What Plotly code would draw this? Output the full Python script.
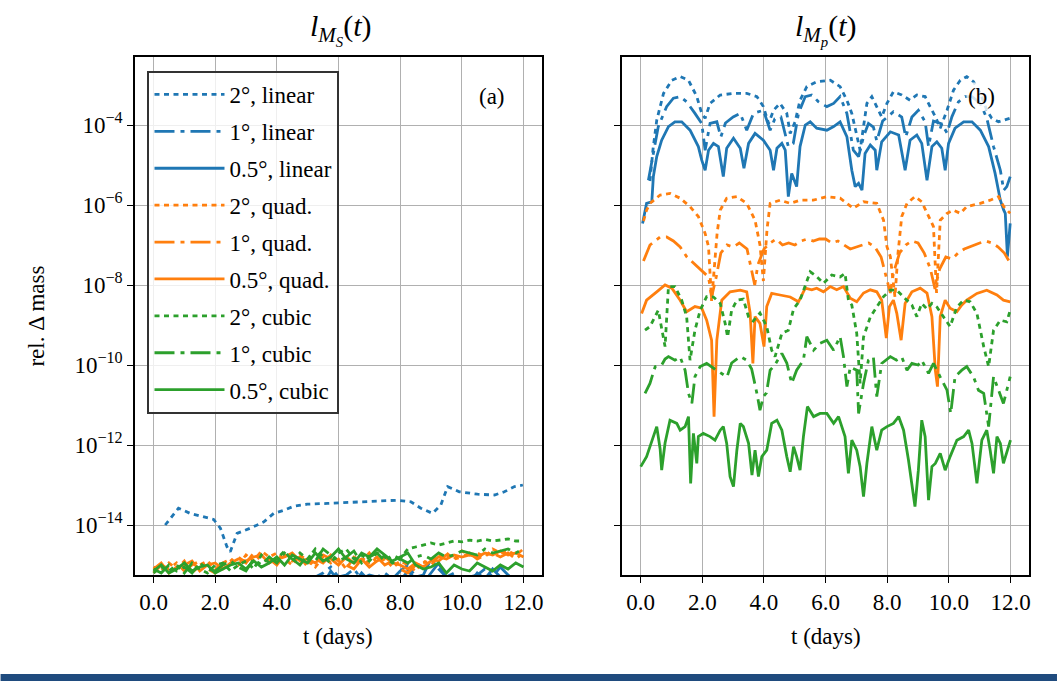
import numpy as np
import plotly.graph_objects as go

BLUE, ORANGE, GREEN = "#1f77b4", "#ff7f0e", "#2ca02c"
FONT = "Liberation Serif"

X_TICKS = [0, 2, 4, 6, 8, 10, 12]
X_TICK_TEXT = ["0.0", "2.0", "4.0", "6.0", "8.0", "10.0", "12.0"]
Y_TICK_EXP = [-14, -12, -10, -8, -6, -4]

LABELS = ["2°, linear", "1°, linear", "0.5°, linear",
          "2°, quad.", "1°, quad.", "0.5°, quad.",
          "2°, cubic", "1°, cubic", "0.5°, cubic"]

# ---------------- panel (a): log10 of rel. mass change --------------------
L_T = [i * 0.25 for i in range(49)]  # sample times (days)

L_LIN2 = [(0.38, -14.0), (0.81, -13.58), (1.19, -13.71), (1.57, -13.79), (1.95, -13.86),
          (2.17, -14.08), (2.38, -14.54), (2.49, -14.67), (2.71, -14.21), (3.14, -14.08),
          (3.58, -13.92), (3.9, -13.71), (4.23, -13.63), (4.55, -13.53), (4.99, -13.48),
          (5.64, -13.46), (6.18, -13.44), (6.83, -13.43), (7.48, -13.4), (7.91, -13.38),
          (8.35, -13.42), (8.67, -13.58), (9.05, -13.71), (9.32, -13.5), (9.54, -13.04),
          (9.92, -13.17), (10.51, -13.23), (11.06, -13.25), (11.38, -13.17), (11.71, -13.04),
          (11.98, -13.0)]
L_LIN1 = [-15.5, -15.6, -15.4, -15.55, -15.45, -15.6, -15.5, -15.4, -15.55, -15.5, -15.45, -15.6,
          -15.5, -15.35, -15.5, -15.4, -15.45, -15.3, -15.45, -15.35, -15.4, -15.3, -15.2, -15.05,
          -15.3, -15.25, -15.1, -15.35, -15.25, -15.3, -15.2, -15.35, -15.15, -15.0, -15.3, -15.25,
          -14.85, -15.1, -15.3, -15.2, -15.35, -15.3, -15.25, -15.1, -15.3, -15.05, -15.25, -15.35, -15.3]
L_LIN05 = [-15.6, -15.5, -15.65, -15.45, -15.6, -15.5, -15.55, -15.6, -15.45, -15.6, -15.5, -15.4,
           -15.55, -15.45, -15.6, -15.5, -15.35, -15.5, -15.4, -15.55, -15.45, -15.35, -15.5, -15.15,
           -15.4, -15.3, -15.45, -15.2, -15.4, -15.35, -15.45, -15.3, -15.4, -15.15, -15.35, -15.45,
           -15.2, -14.95, -15.35, -15.4, -15.3, -15.45, -15.2, -15.35, -15.1, -15.3, -15.4, -15.3, -15.45]
L_Q2 = [-15.05, -15.15, -14.95, -15.1, -14.9, -15.2, -15.0, -14.9, -15.1, -14.95, -14.85, -15.0,
        -14.75, -14.9, -14.65, -14.8, -14.7, -14.85, -15.0, -14.75, -14.9, -15.05, -14.8, -14.95,
        -14.85, -15.1, -14.8, -14.9, -14.7, -14.95, -14.85, -15.05, -14.9, -15.0, -15.15, -14.9,
        -15.0, -14.8, -14.7, -14.85, -14.65, -14.75, -14.7, -14.8, -14.6, -14.7, -14.65, -14.75, -14.6]
L_Q1 = [-15.2, -15.0, -15.1, -14.95, -15.15, -15.0, -14.9, -15.1, -15.2, -15.0, -14.9, -14.8,
        -14.95, -14.7, -14.9, -14.85, -15.0, -14.75, -14.9, -14.8, -15.05, -14.85, -14.95, -14.75,
        -14.9, -15.0, -15.1, -14.85, -14.95, -14.8, -15.0, -14.9, -15.1, -15.2, -15.0, -14.95,
        -14.85, -14.9, -14.75, -14.85, -14.8, -14.7, -14.85, -14.75, -14.7, -14.8, -14.7, -14.85, -14.7]
L_Q05 = [-15.1, -14.95, -15.2, -15.05, -15.0, -14.9, -15.15, -15.0, -14.95, -15.1, -14.95, -14.85,
         -14.9, -14.8, -14.75, -14.95, -14.85, -14.8, -14.7, -14.9, -14.85, -14.95, -14.75, -14.85,
         -15.0, -14.8, -14.95, -14.85, -15.05, -14.9, -14.8, -14.95, -15.0, -15.1, -14.95, -15.05,
         -14.9, -14.8, -14.85, -14.75, -14.8, -14.75, -14.8, -14.7, -14.75, -14.65, -14.75, -14.7, -14.8]
L_C2 = [-15.2, -15.05, -15.15, -15.0, -15.2, -14.95, -15.1, -15.2, -15.0, -14.95, -15.15, -15.0,
        -14.9, -15.1, -14.75, -14.95, -14.85, -14.65, -14.9, -14.7, -14.85, -14.6, -14.8, -14.95,
        -14.7, -14.6, -14.85, -14.75, -14.9, -14.7, -14.8, -14.95, -14.85, -14.6, -14.55, -14.5,
        -14.45, -14.5, -14.45, -14.4, -14.42, -14.38, -14.4, -14.36, -14.4, -14.38, -14.35, -14.4, -14.4]
L_C1 = [-15.1, -15.2, -15.0, -15.15, -15.05, -15.2, -14.95, -15.1, -15.15, -15.0, -14.9, -15.05,
        -15.15, -14.85, -15.0, -14.8, -14.95, -14.7, -14.85, -15.0, -14.75, -14.9, -14.6, -14.75,
        -14.9, -14.8, -14.65, -14.95, -14.8, -14.7, -14.9, -14.75, -14.85, -14.95, -14.8, -14.75,
        -14.85, -14.7, -14.8, -14.75, -14.65, -14.7, -14.75, -14.6, -14.7, -14.65, -14.6, -14.7, -14.6]
L_C05 = [-15.15, -15.0, -15.2, -15.1, -14.95, -15.15, -15.05, -15.0, -15.2, -15.1, -15.0, -14.95,
         -15.1, -14.9, -15.05, -14.95, -14.8, -15.0, -14.75, -14.85, -14.95, -14.7, -14.9, -14.8,
         -14.6, -14.85, -14.95, -14.7, -14.8, -14.6, -14.75, -14.9, -14.8, -14.7, -15.0, -15.1,
         -15.05, -14.95, -15.2, -15.0, -15.1, -15.15, -14.95, -15.05, -15.15, -15.0, -15.1, -14.95, -15.05]

# ---------------- panel (b): (t, log10 value) pairs -----------------------
R_LIN2 = [(0.3, -5.4), (0.4, -4.6), (0.52, -3.88), (0.74, -3.21), (1.01, -2.88), (1.28, -2.79),
          (1.55, -2.88), (1.82, -3.29), (1.98, -3.71), (2.09, -3.83), (2.25, -3.46), (2.58, -3.25),
          (3.01, -3.21), (3.44, -3.21), (3.77, -3.29), (3.98, -3.54), (4.15, -3.96), (4.31, -3.63),
          (4.52, -3.46), (4.74, -3.71), (4.85, -4.21), (5.01, -3.92), (5.17, -3.38), (5.39, -3.04),
          (5.71, -2.92), (6.15, -2.88), (6.47, -3.04), (6.69, -3.38), (6.85, -3.71), (7.01, -4.29),
          (7.12, -4.63), (7.23, -4.04), (7.34, -3.46), (7.5, -3.29), (7.66, -3.54), (7.82, -3.8),
          (7.99, -3.46), (8.2, -3.17), (8.47, -3.25), (8.74, -3.38), (8.96, -3.25), (9.23, -3.29),
          (9.39, -3.54), (9.56, -3.79), (9.72, -4.08), (9.94, -3.63), (10.15, -3.13), (10.37, -2.88),
          (10.58, -2.79), (10.8, -2.92), (11.02, -3.21), (11.23, -3.63), (11.39, -3.83),
          (11.61, -3.92), (11.99, -3.83)]
R_LIN1 = [(0.25, -5.38), (0.36, -4.9), (0.57, -4.04), (0.84, -3.54), (1.06, -3.33), (1.28, -3.29),
          (1.49, -3.42), (1.76, -3.71), (1.98, -3.96), (2.09, -4.63), (2.25, -3.96), (2.47, -3.92),
          (2.6, -4.3), (2.75, -3.95), (3.0, -3.8), (3.23, -3.71), (3.44, -4.13), (3.66, -3.71),
          (3.98, -3.63), (4.2, -4.13), (4.35, -3.85), (4.55, -3.8), (4.79, -4.54), (4.95, -4.46),
          (5.12, -3.71), (5.34, -3.29), (5.55, -3.25), (5.77, -3.42), (6.04, -3.54), (6.26, -3.46),
          (6.47, -3.29), (6.69, -3.71), (6.9, -4.63), (7.07, -4.79), (7.23, -4.29), (7.39, -3.96),
          (7.55, -4.05), (7.66, -4.4), (7.85, -3.9), (8.2, -3.67), (8.47, -3.8), (8.6, -4.3),
          (8.8, -3.8), (9.01, -3.63), (9.23, -3.92), (9.34, -4.54), (9.5, -3.9), (9.77, -3.97),
          (9.94, -4.2), (10.1, -3.79), (10.31, -3.42), (10.53, -3.29), (10.75, -3.29), (11.02, -3.46),
          (11.23, -3.83), (11.45, -4.54), (11.67, -5.13), (11.78, -5.63), (11.88, -5.54), (11.99, -5.29)]
R_LIN05 = [(0.06, -6.46), (0.19, -5.96), (0.36, -5.92), (0.41, -5.29), (0.52, -4.79), (0.68, -4.38),
           (0.9, -4.04), (1.11, -3.92), (1.33, -3.92), (1.6, -4.13), (1.87, -4.54), (1.98, -4.88),
           (2.09, -5.13), (2.2, -4.63), (2.36, -4.46), (2.52, -4.54), (2.68, -5.29), (2.79, -4.58),
           (3.01, -4.33), (3.23, -4.58), (3.35, -5.08), (3.5, -4.46), (3.71, -4.21), (3.98, -4.38),
           (4.2, -4.63), (4.31, -5.13), (4.42, -4.58), (4.58, -4.46), (4.69, -4.63), (4.79, -5.79),
           (4.9, -5.21), (5.06, -5.54), (5.17, -4.54), (5.34, -4.0), (5.5, -3.92), (5.71, -4.08),
           (6.04, -4.13), (6.26, -4.04), (6.47, -3.92), (6.69, -4.29), (6.85, -5.13), (6.96, -5.54),
           (7.07, -5.46), (7.18, -5.63), (7.28, -4.71), (7.45, -4.5), (7.61, -4.63), (7.66, -5.13),
           (7.82, -4.42), (8.1, -4.17), (8.37, -4.25), (8.47, -4.63), (8.58, -5.13), (8.74, -4.38),
           (8.96, -4.25), (9.12, -4.46), (9.29, -5.38), (9.45, -4.54), (9.61, -4.42), (9.77, -4.58),
           (9.88, -5.13), (9.99, -4.46), (10.2, -4.08), (10.48, -3.92), (10.75, -3.92), (11.02, -4.13),
           (11.29, -4.54), (11.5, -5.21), (11.67, -5.88), (11.78, -6.13), (11.83, -6.21),
           (11.9, -7.29), (11.99, -6.46)]
R_Q2 = [(0.09, -6.4), (0.19, -6.13), (0.3, -5.96), (0.63, -5.75), (0.95, -5.71), (1.28, -5.83),
        (1.6, -6.04), (1.87, -6.29), (2.09, -6.71), (2.2, -7.04), (2.3, -8.4), (2.4, -7.4),
        (2.48, -6.7), (2.58, -6.13), (2.79, -5.83), (3.12, -5.79), (3.44, -5.96), (3.71, -6.38),
        (3.87, -7.0), (3.98, -7.9), (4.1, -6.6), (4.2, -5.96), (4.52, -5.88), (4.85, -5.96),
        (5.17, -5.88), (5.6, -5.88), (6.04, -5.79), (6.47, -5.83), (6.9, -6.08), (7.23, -5.92),
        (7.66, -5.96), (7.88, -6.38), (7.99, -7.04), (8.1, -7.29), (8.25, -8.3), (8.35, -7.2),
        (8.47, -6.29), (8.64, -5.96), (8.9, -5.79), (9.12, -5.92), (9.34, -6.29), (9.5, -6.54),
        (9.6, -8.2), (9.68, -6.8), (9.72, -6.38), (9.94, -6.21), (10.15, -6.13), (10.37, -6.21),
        (10.58, -6.04), (11.02, -5.96), (11.34, -5.88), (11.61, -5.79), (11.78, -6.04), (11.99, -6.21)]
R_Q1 = [(0.09, -7.4), (0.3, -7.0), (0.63, -6.8), (0.84, -6.8), (1.06, -6.9), (1.28, -7.05),
        (1.5, -7.3), (1.9, -7.6), (2.2, -7.8), (2.3, -8.3), (2.45, -7.8), (2.6, -7.2), (2.8, -7.0),
        (3.0, -7.05), (3.2, -6.95), (3.45, -7.1), (3.6, -7.6), (3.7, -8.0), (3.8, -7.5), (4.0, -7.1),
        (4.2, -6.95), (4.4, -6.85), (4.6, -7.0), (4.8, -6.95), (5.0, -7.0), (5.2, -6.9), (5.4, -6.85),
        (5.6, -6.9), (5.8, -6.85), (6.0, -6.85), (6.2, -6.95), (6.4, -6.9), (6.6, -7.0), (6.8, -7.1),
        (7.0, -7.05), (7.2, -7.0), (7.4, -6.95), (7.6, -7.05), (7.8, -7.3), (8.0, -7.9), (8.1, -8.2),
        (8.2, -7.7), (8.4, -7.2), (8.6, -7.0), (8.8, -6.9), (9.0, -6.95), (9.2, -7.2), (9.4, -7.6),
        (9.55, -8.1), (9.7, -7.6), (9.9, -7.3), (10.1, -7.35), (10.3, -7.2), (10.5, -7.1),
        (10.8, -7.0), (11.0, -6.95), (11.2, -6.9), (11.4, -6.95), (11.6, -7.05), (11.8, -7.2),
        (11.95, -7.4)]
R_Q05 = [(0.03, -8.71), (0.19, -8.38), (0.52, -8.17), (0.79, -8.0), (1.01, -8.08), (1.28, -8.38),
         (1.49, -8.67), (1.76, -8.54), (1.98, -8.58), (2.14, -8.88), (2.3, -9.38), (2.38, -11.29),
         (2.47, -9.38), (2.63, -8.38), (2.9, -8.17), (3.23, -8.13), (3.44, -8.17), (3.55, -8.7),
         (3.64, -9.96), (3.71, -8.79), (3.87, -8.96), (4.0, -9.54), (4.09, -8.54), (4.25, -8.21),
         (4.52, -8.25), (4.85, -8.3), (5.12, -8.42), (5.34, -8.08), (5.55, -8.12), (5.71, -8.08),
         (5.93, -8.17), (6.15, -8.04), (6.36, -8.12), (6.58, -8.04), (6.8, -8.33), (7.01, -8.42),
         (7.23, -8.2), (7.45, -8.12), (7.66, -8.17), (7.82, -8.38), (7.97, -9.33), (8.07, -8.54),
         (8.2, -8.38), (8.31, -8.71), (8.45, -9.38), (8.58, -8.46), (8.8, -8.17), (9.07, -8.08),
         (9.29, -8.2), (9.45, -8.79), (9.56, -10.13), (9.63, -10.54), (9.72, -8.79), (9.88, -8.38),
         (10.04, -8.58), (10.26, -8.67), (10.42, -8.5), (10.58, -8.38), (10.91, -8.21),
         (11.23, -8.13), (11.56, -8.25), (11.77, -8.38), (11.99, -8.42)]
R_C2 = [(0.14, -9.13), (0.3, -9.04), (0.57, -8.63), (0.79, -9.54), (0.9, -8.04), (1.11, -8.04),
        (1.33, -8.38), (1.49, -8.79), (1.6, -9.88), (1.76, -9.13), (1.93, -8.63), (2.14, -8.29),
        (2.36, -8.3), (2.58, -8.46), (2.74, -8.96), (2.82, -9.3), (2.95, -8.63), (3.12, -8.38),
        (3.33, -8.35), (3.5, -8.8), (3.65, -8.9), (3.87, -8.7), (4.09, -9.04), (4.25, -9.63),
        (4.36, -9.79), (4.58, -9.21), (4.79, -9.13), (4.96, -8.6), (5.17, -8.38), (5.34, -8.04),
        (5.5, -7.67), (5.71, -7.79), (5.93, -7.96), (6.2, -7.75), (6.47, -7.8), (6.63, -7.71),
        (6.74, -8.38), (6.85, -8.5), (7.01, -9.21), (7.12, -10.46), (7.23, -9.3), (7.45, -8.8),
        (7.66, -8.54), (7.88, -8.29), (8.1, -8.13), (8.31, -8.13), (8.53, -8.3), (8.8, -8.5),
        (8.96, -8.79), (9.12, -8.46), (9.29, -8.6), (9.45, -8.46), (9.61, -8.55), (9.83, -8.79),
        (10.04, -9.04), (10.26, -8.55), (10.48, -8.38), (10.69, -8.42), (10.91, -8.71),
        (11.13, -9.54), (11.29, -10.04), (11.45, -9.13), (11.67, -8.88), (11.88, -8.92), (11.99, -8.63)]
R_C1 = [(0.14, -10.71), (0.3, -10.46), (0.47, -10.04), (0.68, -10.0), (0.79, -9.85), (0.9, -9.79),
        (1.11, -9.88), (1.28, -9.8), (1.44, -10.13), (1.55, -10.71), (1.66, -10.96), (1.76, -10.29),
        (1.93, -10.04), (2.14, -9.96), (2.4, -10.1), (2.63, -10.21), (2.8, -10.3), (2.95, -9.95),
        (3.23, -9.79), (3.44, -9.88), (3.6, -10.1), (3.77, -10.71), (3.87, -11.13), (3.98, -10.79),
        (4.08, -10.7), (4.2, -10.13), (4.35, -10.0), (4.58, -9.71), (4.74, -9.95), (4.9, -10.46),
        (5.06, -10.13), (5.28, -9.88), (5.39, -9.29), (5.61, -9.63), (5.82, -9.46), (6.04, -9.38),
        (6.26, -9.63), (6.47, -9.29), (6.58, -9.79), (6.69, -10.54), (6.8, -10.05), (7.01, -10.13),
        (7.07, -11.21), (7.23, -10.46), (7.39, -9.88), (7.55, -9.8), (7.66, -10.79), (7.82, -9.96),
        (8.1, -9.79), (8.3, -9.88), (8.47, -9.8), (8.64, -10.13), (8.8, -9.96), (9.0, -10.0),
        (9.12, -9.88), (9.34, -10.21), (9.5, -9.96), (9.72, -10.3), (9.94, -10.63), (10.06, -11.21),
        (10.2, -10.29), (10.42, -10.13), (10.58, -10.04), (10.8, -10.3), (10.96, -10.63),
        (11.13, -10.71), (11.29, -11.54), (11.45, -10.29), (11.61, -10.63), (11.77, -10.96),
        (11.88, -10.63), (11.99, -10.29)]
R_C05 = [(0.0, -12.54), (0.19, -12.29), (0.41, -11.79), (0.52, -11.54), (0.63, -12.1), (0.68, -12.63),
         (0.79, -11.95), (0.95, -11.38), (1.17, -11.46), (1.28, -11.63), (1.44, -11.54), (1.55, -11.29),
         (1.62, -12.96), (1.71, -11.71), (1.82, -12.46), (1.87, -11.79), (2.03, -11.71), (2.25, -11.79),
         (2.41, -11.88), (2.58, -11.63), (2.68, -11.54), (2.79, -11.96), (2.9, -12.79), (3.01, -13.04),
         (3.12, -12.13), (3.23, -11.46), (3.33, -11.54), (3.5, -11.96), (3.61, -12.75), (3.71, -12.13),
         (3.82, -12.79), (3.93, -12.29), (4.09, -12.13), (4.25, -11.46), (4.42, -11.38), (4.58, -11.63),
         (4.74, -12.29), (4.85, -12.67), (4.96, -12.04), (5.06, -12.29), (5.17, -12.63), (5.28, -11.79),
         (5.41, -11.04), (5.61, -11.29), (5.82, -11.21), (6.04, -11.21), (6.26, -11.46), (6.42, -11.29),
         (6.63, -11.79), (6.74, -12.71), (6.85, -11.88), (7.01, -12.13), (7.12, -12.54), (7.23, -13.29),
         (7.34, -12.46), (7.5, -11.54), (7.66, -12.13), (7.82, -11.63), (7.99, -11.54), (8.2, -11.46),
         (8.37, -11.29), (8.53, -11.63), (8.69, -12.38), (8.8, -12.96), (8.9, -13.54), (9.01, -12.63),
         (9.12, -11.38), (9.23, -11.79), (9.34, -13.38), (9.45, -12.54), (9.56, -12.46), (9.72, -12.21),
         (9.88, -12.63), (10.04, -12.29), (10.26, -11.88), (10.48, -11.79), (10.64, -11.63),
         (10.75, -11.96), (10.91, -12.96), (11.07, -11.88), (11.23, -11.63), (11.34, -12.13),
         (11.45, -12.71), (11.56, -11.79), (11.67, -11.96), (11.77, -12.46), (11.88, -12.21),
         (12.0, -11.88)]

DOT = "5px,4.5px"
DASHDOT = "20px,6px,4px,6px"
STYLES = [(BLUE, DOT), (BLUE, DASHDOT), (BLUE, "solid"),
          (ORANGE, DOT), (ORANGE, DASHDOT), (ORANGE, "solid"),
          (GREEN, DOT), (GREEN, DASHDOT), (GREEN, "solid")]

LEFT = [L_LIN2, L_LIN1, L_LIN05, L_Q2, L_Q1, L_Q05, L_C2, L_C1, L_C05]
RIGHT = [R_LIN2, R_LIN1, R_LIN05, R_Q2, R_Q1, R_Q05, R_C2, R_C1, R_C05]


def xy(series):
    if isinstance(series[0], tuple):
        t = [p[0] for p in series]
        e = [p[1] for p in series]
    else:
        t = L_T
        e = series
    return t, 10 ** np.array(e, dtype=float)


fig = go.Figure()
LW = 2.8
for i, (s, lab) in enumerate(zip(LEFT, LABELS)):
    c, d = STYLES[i]
    t, y = xy(s)
    fig.add_trace(go.Scatter(x=t, y=y, mode="lines", name=lab, legendgroup=f"g{i}",
                             line=dict(color=c, dash=d, width=LW), xaxis="x", yaxis="y"))
for i, (s, lab) in enumerate(zip(RIGHT, LABELS)):
    c, d = STYLES[i]
    t, y = xy(s)
    fig.add_trace(go.Scatter(x=t, y=y, mode="lines", name=lab, legendgroup=f"g{i}",
                             showlegend=False,
                             line=dict(color=c, dash=d, width=LW), xaxis="x2", yaxis="y2"))

W, H = 1057, 681
ML, MR, MT, MB = 134.5, 28, 57, 106
PW, PH = W - ML - MR, H - MT - MB


def px(xp):
    return (xp - ML) / PW


def py(yp):
    return 1 - (yp - MT) / PH


FS = 23
ytick_vals = [10.0 ** e for e in Y_TICK_EXP]
ytick_text = [f"10<sup>−{-e}</sup>" for e in Y_TICK_EXP]

axis_common = dict(showline=True, linecolor="black", linewidth=1.6, mirror=True,
                   ticks="outside", ticklen=6, tickwidth=1.4, tickcolor="black",
                   showgrid=True, gridcolor="#b0b0b0", gridwidth=1.3, zeroline=False,
                   tickfont=dict(family=FONT, size=FS, color="black"))

fig.update_layout(
    width=W, height=H,
    margin=dict(l=ML, r=MR, t=MT, b=MB, autoexpand=False),
    paper_bgcolor="white", plot_bgcolor="white",
    font=dict(family=FONT, size=FS, color="black"),
    xaxis=dict(domain=[0, px(541.7)], range=[-0.6, 12.6], tickvals=X_TICKS,
               ticktext=X_TICK_TEXT, anchor="y", **axis_common),
    xaxis2=dict(domain=[px(622), 1], range=[-0.6, 12.6], tickvals=X_TICKS,
                ticktext=X_TICK_TEXT, anchor="y2", **axis_common),
    yaxis=dict(type="log", range=[-15.25, -2.3], tickvals=ytick_vals, ticktext=ytick_text,
               anchor="x", **axis_common),
    yaxis2=dict(type="log", range=[-15.25, -2.3], tickvals=ytick_vals, ticktext=ytick_text,
                showticklabels=False, anchor="x2", matches="y", **axis_common),
    legend=dict(x=px(147), y=py(71), xanchor="left", yanchor="top",
                bgcolor="rgba(255,255,255,0.8)", bordercolor="#333333", borderwidth=2,
                font=dict(family=FONT, size=FS, color="black"),
                tracegroupgap=4, itemwidth=70),
    showlegend=True,
)


def note(text, x, y, size=FS, **kw):
    return dict(text=text, x=px(x), y=py(y), xref="paper", yref="paper", showarrow=False,
                xanchor="center", yanchor="middle", font=dict(family=FONT, size=size), **kw)


ann = [
    note("<i>l</i><sub><i>M</i><sub><i>S</i></sub></sub>(<i>t</i>)", 341, 30, size=30),
    note("<i>l</i><sub><i>M</i><sub><i>p</i></sub></sub>(<i>t</i>)", 826, 30, size=30),
    note("(a)", 492, 97),
    note("(b)", 981, 97, bgcolor="rgba(255,255,255,0.8)"),
    note("t (days)", 338, 636),
    note("t (days)", 825.5, 636),
    note("rel. Δ mass", 35, 316, textangle=-90),
]
fig.update_layout(annotations=ann)

fig.add_shape(type="rect", xref="paper", yref="paper", x0=px(0), x1=px(W),
              y0=py(681), y1=py(674), fillcolor="#1f4b7e", line=dict(width=0), layer="above")

fig.write_html("out.html", config={"displayModeBar": False},
               post_script="document.body.style.margin='0';")
